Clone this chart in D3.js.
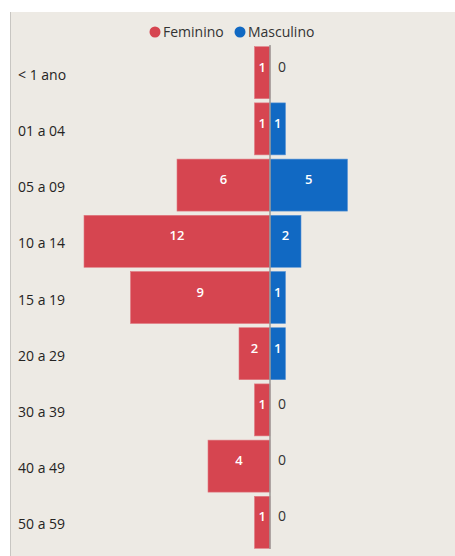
<!DOCTYPE html>
<html><head><meta charset="utf-8">
<script src="https://cdn.jsdelivr.net/npm/d3@7"></script>
<style>html,body{margin:0;padding:0;background:#fff;}svg{display:block;}</style>
</head><body>
<svg id="chart" width="455" height="556"></svg>
<script>
const categories = ["< 1 ano","01 a 04","05 a 09","10 a 14","15 a 19","20 a 29","30 a 39","40 a 49","50 a 59"];
const feminino = [1,1,6,12,9,2,1,4,1];
const masculino = [0,1,5,2,1,1,0,0,0];
const seriesNames = ["Feminino","Masculino"];
const colors = ["#D64550","#1169C3"];

const svg = d3.select("#chart");
const font = "'Segoe UI','Open Sans',sans-serif";
svg.append("rect").attr("x",10).attr("y",12).attr("width",445).attr("height",544).attr("fill","#EDEAE4");
svg.append("line").attr("x1",10.5).attr("x2",10.5).attr("y1",12).attr("y2",556).attr("stroke","#C8C6C2").attr("stroke-width",1);

const cx = 270;
const x = d3.scaleLinear().domain([0,12]).range([0,186]);
const y = d3.scaleBand().domain(categories).range([45,550]).paddingInner(0.075).paddingOuter(0.03);

// legend
const leg = svg.append("g");
const legX = [155,240];
seriesNames.forEach((n,i)=>{
  leg.append("circle").attr("cx",legX[i]).attr("cy",32).attr("r",5.5).attr("fill",colors[i]);
  leg.append("text").attr("x",legX[i]+8).attr("y",37).text(n)
    .attr("font-family",font).attr("font-size",14).attr("fill","#333");
});

// category labels
svg.append("g").selectAll("text").data(categories).join("text")
  .attr("x",18).attr("y",d=>y(d)+y.bandwidth()/2+7).text(d=>d)
  .attr("font-family",font).attr("font-size",14).attr("fill","#252423");

// female bars
svg.append("g").selectAll("rect").data(feminino).join("rect")
  .attr("x",d=>cx-x(d)).attr("y",(d,i)=>y(categories[i])).attr("width",d=>x(d)).attr("height",y.bandwidth())
  .attr("fill",colors[0]).attr("stroke","#E07A82").attr("stroke-width",0.6);
svg.append("g").selectAll("rect").data(masculino).join("rect")
  .attr("x",cx).attr("y",(d,i)=>y(categories[i])).attr("width",d=>x(d)).attr("height",y.bandwidth())
  .attr("fill",colors[1]).attr("stroke","#5A95D6").attr("stroke-width",0.6);

// axis line
svg.append("line").attr("x1",cx).attr("x2",cx).attr("y1",y.range()[0]).attr("y2",y.range()[1]-1)
  .attr("stroke","#9A9896").attr("stroke-width",1.5);

// labels female
svg.append("g").selectAll("text").data(feminino).join("text")
  .attr("x",d=>cx-x(d)/2).attr("y",(d,i)=>y(categories[i])+y.bandwidth()/2-1)
  .attr("text-anchor","middle").text(d=>d)
  .attr("font-family",font).attr("font-size",13).attr("font-weight",600).attr("fill","#fff");
// labels male
svg.append("g").selectAll("text").data(masculino).join("text")
  .attr("x",d=>d>0?cx+x(d)/2:cx+8).attr("y",(d,i)=>y(categories[i])+y.bandwidth()/2-1)
  .attr("text-anchor",d=>d>0?"middle":"start").text(d=>d)
  .attr("font-family",font).attr("font-size",d=>d>0?13:14).attr("font-weight",d=>d>0?600:"normal")
  .attr("fill",d=>d>0?"#fff":"#333");
</script>
</body></html>
